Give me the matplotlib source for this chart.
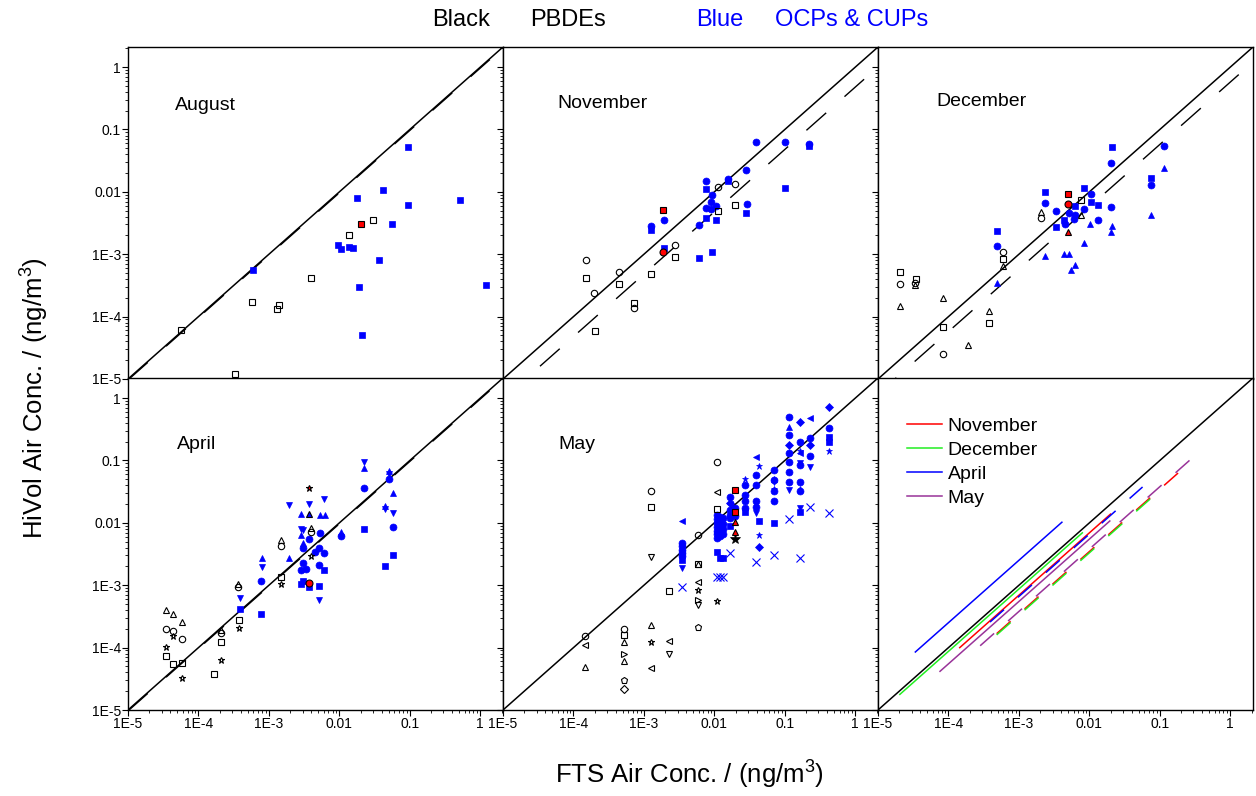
import numpy as np
import matplotlib.pyplot as plt
from matplotlib.ticker import FixedLocator, LogLocator, FuncFormatter, NullFormatter

plt.rcParams['font.family'] = ['Liberation Sans', 'DejaVu Sans']
plt.rcParams['mathtext.default'] = 'regular'

# ---- data (FTS conc, HiVol conc) in ng/m3 ----
# August
aug_blue_s = [(5.9e-4, 5.6e-4), (0.093, 0.052), (0.0179, 0.0080), (0.041, 0.0106), (0.095, 0.0061),
              (0.52, 0.0073), (0.0556, 0.00308), (0.0096, 0.0014), (0.0105, 0.0012), (0.0135, 0.00129),
              (0.0154, 0.00126), (0.036, 8.0e-4), (0.0191, 3.0e-4), (1.2, 3.2e-4), (0.0208, 5.1e-5)]
aug_black_s = [(5.6e-5, 6.2e-5), (5.7e-4, 1.73e-4), (1.3e-3, 1.32e-4), (1.4e-3, 1.53e-4), (4.0e-3, 4.2e-4),
               (3.3e-4, 1.2e-5), (0.0138, 2.0e-3), (0.030, 3.5e-3)]
aug_red_s = [(0.020, 3.0e-3)]

# November
nov_blue_o = [(0.0388, 0.062), (0.102, 0.064), (0.221, 0.058), (0.028, 0.0223), (0.0157, 0.0158),
              (0.0076, 0.0147), (0.0092, 0.0088), (0.0089, 0.0070), (0.0077, 0.0056), (0.0090, 0.0053),
              (0.0106, 0.0059), (0.0286, 0.0064), (0.0060, 0.0029), (1.9e-3, 0.0035), (1.24e-3, 0.0028)]
nov_blue_s = [(1.24e-3, 2.44e-3), (0.0076, 0.011), (0.0077, 0.0038), (0.0105, 0.0036), (0.028, 0.0046),
              (0.102, 0.0114), (0.0060, 8.8e-4), (0.0092, 1.07e-3), (1.9e-3, 1.24e-3), (0.0157, 0.0151),
              (0.221, 0.054)]
nov_black_o = [(1.49e-4, 8.1e-4), (4.4e-4, 5.2e-4), (1.97e-4, 2.4e-4), (7.2e-4, 1.36e-4), (2.8e-3, 1.42e-3),
               (0.0111, 0.0118), (0.0197, 0.0132)]
nov_black_s = [(1.49e-4, 4.1e-4), (4.4e-4, 3.3e-4), (7.2e-4, 1.67e-4), (2.0e-4, 5.9e-5), (1.28e-3, 4.8e-4),
               (2.8e-3, 8.9e-4), (0.0111, 4.9e-3), (0.0197, 6.1e-3)]
nov_red_s = [(1.86e-3, 5.2e-3)]
nov_red_o = [(1.86e-3, 1.07e-3)]

# December
dec_blue_s = [(0.0208, 0.052), (0.074, 0.0166), (2.34e-3, 0.0100), (8.3e-3, 0.0114), (0.0104, 6.9e-3),
              (0.0132, 6.2e-3), (6.2e-3, 5.9e-3), (4.4e-3, 3.5e-3), (3.4e-3, 2.76e-3), (4.9e-4, 2.36e-3)]
dec_blue_o = [(0.113, 0.055), (0.0206, 0.029), (0.074, 0.013), (0.0104, 9.4e-3), (2.34e-3, 6.6e-3),
              (3.4e-3, 4.9e-3), (5.1e-3, 4.6e-3), (6.2e-3, 4.2e-3), (8.3e-3, 5.4e-3), (0.020, 5.7e-3),
              (0.0133, 3.6e-3), (4.5e-3, 3.1e-3), (6.0e-3, 3.7e-3), (4.9e-4, 1.34e-3)]
dec_blue_t = [(0.113, 0.024), (0.074, 4.3e-3), (0.0103, 3.0e-3), (0.0208, 2.86e-3), (0.020, 2.3e-3),
              (8.3e-3, 1.53e-3), (2.34e-3, 9.5e-4), (4.3e-3, 1.02e-3), (5.1e-3, 1.02e-3), (6.2e-3, 6.7e-4),
              (5.4e-3, 5.6e-4), (4.9e-4, 3.5e-4)]
dec_red_s = [(4.9e-3, 9.3e-3)]
dec_red_o = [(4.9e-3, 6.5e-3)]
dec_red_t = [(4.9e-3, 2.24e-3)]
dec_black_s = [(2.05e-5, 5.1e-4), (3.5e-5, 4.0e-4), (6.0e-4, 8.4e-4), (8.3e-5, 6.7e-5), (3.75e-4, 7.8e-5),
               (7.7e-3, 7.4e-3)]
dec_black_o = [(2.05e-5, 3.3e-4), (3.3e-5, 3.5e-4), (6.0e-4, 1.07e-3), (2.03e-3, 3.8e-3), (8.3e-5, 2.5e-5)]
dec_black_t = [(2.05e-5, 1.5e-4), (3.35e-5, 3.2e-4), (8.3e-5, 2.0e-4), (6.0e-4, 6.5e-4), (2.03e-3, 4.8e-3),
               (3.75e-4, 1.23e-4), (1.9e-4, 3.5e-5), (7.7e-3, 4.2e-3)]

# April
apr_black_t = [(3.46e-5, 4.0e-4), (4.4e-5, 3.4e-4), (5.8e-5, 2.54e-4), (3.7e-4, 1.03e-3), (1.48e-3, 5.4e-3),
               (3.9e-3, 8.4e-3), (2.06e-4, 1.9e-4)]
apr_black_o = [(3.46e-5, 2.0e-4), (4.4e-5, 1.85e-4), (5.8e-5, 1.36e-4), (3.7e-4, 9.4e-4), (1.48e-3, 4.3e-3),
               (3.9e-3, 7.2e-3), (2.06e-4, 1.7e-4)]
apr_black_s = [(3.46e-5, 7.4e-5), (4.3e-5, 5.5e-5), (5.8e-5, 5.7e-5), (1.66e-4, 3.8e-5), (2.06e-4, 1.21e-4),
               (3.75e-4, 2.8e-4), (1.48e-3, 1.35e-3)]
apr_black_star = [(3.46e-5, 1.02e-4), (4.3e-5, 1.53e-4), (5.8e-5, 3.2e-5), (2.06e-4, 6.3e-5), (3.75e-4, 2.04e-4),
                  (1.48e-3, 1.03e-3), (3.9e-3, 2.97e-3)]
apr_red_star = [(3.65e-3, 0.0366)]
apr_red_o = [(3.65e-3, 1.07e-3)]
apr_dark_t = [(3.65e-3, 0.0137)]
apr_blue_t = [(7.9e-4, 2.76e-3), (1.94e-3, 2.76e-3), (2.85e-3, 0.0137), (3.0e-3, 4.8e-3), (5.3e-3, 0.0133),
              (6.2e-3, 0.0133), (0.0105, 7.2e-3), (0.0223, 0.0766), (0.0442, 0.0188), (0.0509, 0.0676),
              (0.058, 0.0296), (2.85e-3, 6.5e-3)]
apr_blue_v = [(7.9e-4, 1.98e-3), (3.9e-4, 6.3e-4), (1.94e-3, 0.0193), (3.65e-3, 0.0198), (3.0e-3, 7.7e-3),
              (6.1e-3, 0.0238), (5.1e-3, 5.8e-4), (0.0223, 0.093), (0.0442, 0.0166), (0.058, 0.0145),
              (0.0509, 0.0598), (2.85e-3, 8.0e-3)]
apr_blue_o = [(7.7e-4, 1.17e-3), (3.0e-3, 2.24e-3), (2.85e-3, 1.75e-3), (3.4e-3, 1.82e-3), (3.65e-3, 5.5e-3),
              (5.3e-3, 6.9e-3), (5.2e-3, 3.9e-3), (4.5e-3, 3.4e-3), (6.1e-3, 3.3e-3), (5.1e-3, 2.1e-3),
              (0.0105, 6.1e-3), (0.0223, 0.0366), (0.0509, 0.0498), (0.058, 8.6e-3), (3.0e-3, 3.9e-3)]
apr_blue_s = [(3.9e-4, 4.1e-4), (7.7e-4, 3.45e-4), (2.85e-3, 1.03e-3), (3.0e-3, 1.18e-3), (3.65e-3, 9.5e-4),
              (5.1e-3, 9.8e-4), (6.1e-3, 1.75e-3), (0.0223, 8.1e-3), (0.0442, 2.06e-3), (0.058, 3.0e-3)]

# May
may_black_o = [(1.47e-4, 1.53e-4), (5.2e-4, 2.0e-4), (1.26e-3, 0.0327), (5.9e-3, 6.5e-3), (0.0108, 0.094)]
may_black_s = [(1.26e-3, 0.0177), (2.26e-3, 8.1e-4), (5.2e-4, 1.59e-4), (5.9e-3, 2.19e-3), (0.0108, 0.0166)]
may_black_t = [(1.47e-4, 4.9e-5), (5.2e-4, 6.2e-5), (5.2e-4, 1.24e-4), (1.26e-3, 2.3e-4), (5.9e-3, 2.2e-3)]
may_black_l = [(1.47e-4, 1.1e-4), (1.26e-3, 4.7e-5), (2.26e-3, 1.29e-4), (5.9e-3, 1.11e-3), (0.0108, 0.0308)]
may_black_v = [(1.26e-3, 2.86e-3), (2.26e-3, 7.8e-5), (5.9e-3, 4.9e-4)]
may_black_r = [(5.2e-4, 7.8e-5), (5.9e-3, 5.7e-4)]
may_black_star = [(1.26e-3, 1.24e-4), (5.9e-3, 8.4e-4), (0.0108, 5.6e-4)]
may_black_p = [(5.9e-3, 2.16e-4), (5.2e-4, 3.0e-5)]
may_black_d = [(5.2e-4, 2.2e-5)]
may_fill_star = [(0.0195, 5.6e-3)]
may_red_s = [(0.0195, 0.0336), (0.0195, 0.0151)]
may_red_t = [(0.0195, 0.0104), (0.0195, 7.2e-3)]
may_blue_o = [(3.5e-3, 4.7e-3), (3.5e-3, 4.2e-3), (3.5e-3, 3.7e-3), (3.5e-3, 3.3e-3), (3.5e-3, 2.9e-3),
              (0.0108, 0.0133), (0.0108, 0.0115), (0.0108, 0.0098), (0.0108, 0.0087), (0.0108, 0.0075),
              (0.0108, 0.0066), (0.0108, 0.0058), (0.012, 0.0125), (0.012, 0.0105), (0.012, 0.009),
              (0.012, 0.0078), (0.012, 0.0068), (0.012, 0.0061), (0.0133, 0.0118), (0.0133, 0.0095),
              (0.0133, 0.008), (0.0133, 0.0066), (0.0166, 0.026), (0.0166, 0.016), (0.0166, 0.0135),
              (0.0166, 0.0118), (0.0195, 0.017), (0.0195, 0.013), (0.027, 0.04), (0.027, 0.028),
              (0.027, 0.022), (0.027, 0.017), (0.0388, 0.058), (0.0388, 0.040), (0.0388, 0.022),
              (0.0388, 0.018), (0.0706, 0.07), (0.0706, 0.048), (0.0706, 0.032), (0.0706, 0.022),
              (0.113, 0.50), (0.113, 0.255), (0.113, 0.13), (0.113, 0.095), (0.113, 0.066), (0.113, 0.046),
              (0.163, 0.2), (0.163, 0.084), (0.163, 0.046), (0.163, 0.032), (0.231, 0.23), (0.231, 0.12),
              (0.425, 0.335)]
may_blue_s = [(0.0108, 3.4e-3), (0.012, 2.76e-3), (0.0133, 2.76e-3), (0.043, 0.0107), (0.0706, 9.8e-3),
              (0.163, 0.0151), (0.425, 0.24), (0.425, 0.20), (3.5e-3, 2.5e-3), (0.0166, 0.009), (0.027, 0.015)]
may_blue_t = [(0.0706, 0.05), (0.113, 0.35), (0.163, 0.035)]
may_blue_v = [(3.5e-3, 1.91e-3), (0.0388, 0.0142), (0.113, 0.0336), (0.163, 0.017), (0.231, 0.079),
              (0.0706, 0.045), (0.163, 0.09)]
may_blue_l = [(3.5e-3, 0.0107), (0.0388, 0.115), (0.231, 0.48), (0.163, 0.13), (0.0166, 0.02)]
may_blue_star = [(0.043, 0.082), (0.043, 6.4e-3), (0.425, 0.14), (0.027, 0.05), (0.163, 0.14), (0.0706, 0.035)]
may_blue_d = [(0.0166, 0.021), (0.043, 4.1e-3), (0.163, 0.42), (0.425, 0.73), (0.113, 0.18), (0.231, 0.18)]
may_blue_x = [(3.5e-3, 9.3e-4), (0.0108, 1.37e-3), (0.012, 1.37e-3), (0.0133, 1.37e-3), (0.0166, 3.3e-3),
              (0.0388, 2.4e-3), (0.0706, 3.1e-3), (0.113, 0.0115), (0.163, 2.76e-3), (0.231, 0.018),
              (0.425, 0.0145)]

months = ['August', 'November', 'December', 'April', 'May']
# regression lines: log10 x start, log10 x end, log10 offset from 1:1
reg_lines = {'August': (-5.0, 0.135, -0.015), 'November': (-4.475, 0.125, -0.32),
             'December': (-5.02, 0.12, -0.24), 'April': (-5.0, 0.13, -0.015), 'May': None}

# summary panel: (log10 x start, log10 x end, log10 offset)
sum_names = ['November', 'December', 'April', 'May']
sum_colors = ['#ff0000', '#22ee22', '#0000ff', '#993399']
sum_solid = [(-3.84, -1.70, -0.16), (-4.69, -2.10, -0.06), (-4.47, -2.39, 0.40), (-4.12, -1.71, -0.26)]
sum_dashed = [(-3.316, -0.64, -0.46), (-3.316, -0.97, -0.48), (-3.41, -1.245, -0.18), (-3.55, -0.47, -0.42)]

panel_points = {
    'August': [(aug_blue_s, 's', 'blue'), (aug_black_s, 's', 'black'), (aug_red_s, 's', 'red')],
    'November': [(nov_blue_o, 'o', 'blue'), (nov_blue_s, 's', 'blue'), (nov_black_o, 'o', 'black'),
                 (nov_black_s, 's', 'black'), (nov_red_s, 's', 'red'), (nov_red_o, 'o', 'red')],
    'December': [(dec_blue_s, 's', 'blue'), (dec_blue_o, 'o', 'blue'), (dec_blue_t, '^', 'blue'),
                 (dec_black_s, 's', 'black'), (dec_black_o, 'o', 'black'), (dec_black_t, '^', 'black'),
                 (dec_red_s, 's', 'red'), (dec_red_o, 'o', 'red'), (dec_red_t, '^', 'red')],
    'April': [(apr_blue_t, '^', 'blue'), (apr_blue_v, 'v', 'blue'), (apr_blue_o, 'o', 'blue'),
              (apr_blue_s, 's', 'blue'), (apr_black_t, '^', 'black'), (apr_black_o, 'o', 'black'),
              (apr_black_s, 's', 'black'), (apr_black_star, '*', 'black'), (apr_red_star, '*', 'red'),
              (apr_red_o, 'o', 'red'), (apr_dark_t, '^', 'dark')],
    'May': [(may_blue_o, 'o', 'blue'), (may_blue_s, 's', 'blue'), (may_blue_t, '^', 'blue'),
            (may_blue_v, 'v', 'blue'), (may_blue_l, '<', 'blue'), (may_blue_star, '*', 'blue'),
            (may_blue_d, 'D', 'blued'), (may_blue_x, 'x', 'bluex'),
            (may_black_o, 'o', 'black'), (may_black_s, 's', 'black'), (may_black_t, '^', 'black'),
            (may_black_l, '<', 'black'), (may_black_v, 'v', 'black'), (may_black_r, '>', 'black'),
            (may_black_star, '*', 'black'), (may_black_p, 'p', 'black'), (may_black_d, 'D', 'blackd'),
            (may_fill_star, '*', 'fill'), (may_red_s, 's', 'red'), (may_red_t, '^', 'red')],
}

label_pos = {'August': (0.125, 0.825), 'November': (0.144, 0.83), 'December': (0.157, 0.835),
             'April': (0.13, 0.80), 'May': (0.147, 0.80)}

STYLE = {
    'blue': dict(mfc='#0000ff', mec='#0000ff', mew=0.5, ms=5),
    'blued': dict(mfc='#0000ff', mec='#0000ff', mew=0.5, ms=4),
    'bluex': dict(color='#0000ff', mew=0.8, ms=6),
    'black': dict(mfc='none', mec='black', mew=0.8, ms=4.6),
    'blackd': dict(mfc='none', mec='black', mew=0.8, ms=3.8),
    'red': dict(mfc='#ff0000', mec='black', mew=0.8, ms=5),
    'dark': dict(mfc='#0000ff', mec='black', mew=0.8, ms=5),
    'fill': dict(mfc='black', mec='black', mew=0.5, ms=7),
}

LO, HI = 1e-5, 2.1


def fmt(v, pos):
    e = int(round(np.log10(v)))
    if e <= -3:
        return '1E%d' % e
    return {-2: '0.01', -1: '0.1', 0: '1'}.get(e, '')


fig = plt.figure(figsize=(12.56, 7.96), dpi=100)
W, H = 375 / 1256, 332 / 796
lefts = [128 / 1256, 503 / 1256, 878 / 1256]
bottoms = [1 - 379 / 796, 1 - 710 / 796]

axes = []
for r in range(2):
    for c in range(3):
        ax = fig.add_axes([lefts[c], bottoms[r], W, H])
        ax.set_xscale('log')
        ax.set_yscale('log')
        ax.set_xlim(LO, HI)
        ax.set_ylim(LO, HI)
        for a in (ax.xaxis, ax.yaxis):
            a.set_major_locator(FixedLocator([1e-5, 1e-4, 1e-3, 1e-2, 1e-1, 1]))
            a.set_minor_locator(LogLocator(base=10, subs=np.arange(2, 10), numticks=30))
            a.set_major_formatter(FuncFormatter(fmt))
            a.set_minor_formatter(NullFormatter())
        ax.tick_params(which='major', direction='out', length=4, width=0.8, labelsize=10, pad=1)
        ax.tick_params(which='minor', direction='out', length=2, width=0.6)
        if r == 0:
            ax.tick_params(axis='x', which='both', length=0, labelbottom=False)
        if c > 0:
            ax.tick_params(axis='y', labelleft=False)
        for s in ax.spines.values():
            s.set_linewidth(1.0)
        ax.plot([LO, HI], [LO, HI], color='black', lw=1.1, zorder=2)
        axes.append(ax)

for ax, m in zip(axes[:5], months):
    rl = reg_lines[m]
    if rl is not None:
        xs = np.logspace(rl[0], rl[1], 60)
        ln, = ax.plot(xs, xs * 10 ** rl[2], color='black', lw=1.0, zorder=2)
        ln.set_dashes([19, 17.6])
    for pts, mk, kind in panel_points[m]:
        x = [p[0] for p in pts]
        y = [p[1] for p in pts]
        ax.plot(x, y, linestyle='none', marker=mk, zorder=4, **STYLE[kind])
    ax.text(label_pos[m][0], label_pos[m][1], m, transform=ax.transAxes, fontsize=14,
            ha='left', va='center')

# summary panel
ax = axes[5]
handles = []
for name, col, sl, dl in zip(sum_names, sum_colors, sum_solid, sum_dashed):
    xs = np.logspace(sl[0], sl[1], 60)
    h, = ax.plot(xs, xs * 10 ** sl[2], color=col, lw=1.1, label=name, zorder=3)
    handles.append(h)
    xs = np.logspace(dl[0], dl[1], 60)
    d, = ax.plot(xs, xs * 10 ** dl[2], color=col, lw=1.1, zorder=3)
    d.set_dashes([12.2, 12.2])
ax.legend(handles=handles, loc='upper left', bbox_to_anchor=(0.077, 0.882), frameon=False,
          fontsize=14, handlelength=1.8, handletextpad=0.3, labelspacing=0.33, borderpad=0,
          borderaxespad=0)

fig.text(0.028, 0.5, 'HiVol Air Conc. / (ng/m$^3$)', rotation=90, fontsize=18.5, ha='center', va='center')
fig.text(0.549, 0.026, 'FTS Air Conc. / (ng/m$^3$)', fontsize=18.5, ha='center', va='center')
fig.text(432 / 1256, 0.975, 'Black', fontsize=17, ha='left', va='center', color='black')
fig.text(530 / 1256, 0.975, 'PBDEs', fontsize=17, ha='left', va='center', color='black')
fig.text(696 / 1256, 0.975, 'Blue', fontsize=17, ha='left', va='center', color='#0000ff')
fig.text(775 / 1256, 0.975, 'OCPs & CUPs', fontsize=17, ha='left', va='center', color='#0000ff')

fig.savefig('out.png', dpi=100)
